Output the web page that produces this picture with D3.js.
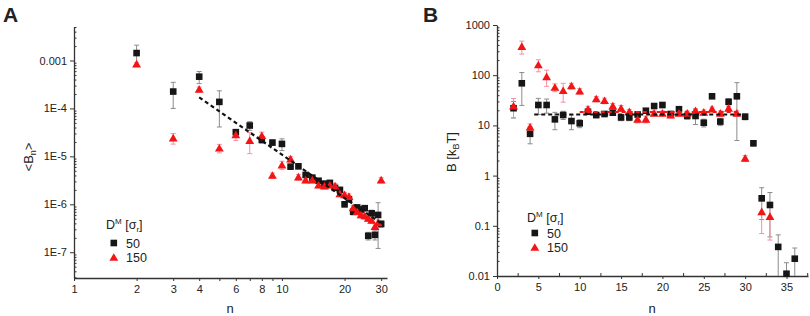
<!DOCTYPE html>
<html lang="en">
<head>
<meta charset="UTF-8">
<title>Bn vs n</title>
<script src="https://cdn.jsdelivr.net/npm/d3@7"></script>
<style>
  body { margin: 0; background: #fff; }
  svg text { font-family: "Liberation Sans", Arial, sans-serif; fill: #222; }
  .axis path, .axis line { stroke: #333; }
  .axis text { font-size: 11px; fill: #222; font-family: "Liberation Sans", Arial, sans-serif; }
</style>
</head>
<body>
<svg id="chart" width="810" height="316"></svg>
<script>
// ---------- panel A data ----------
const nA = [2, 3, 4, 5, 6, 7, 8, 9, 10, 11, 12, 13, 14, 15, 16, 17, 18, 19, 20, 21, 22, 23, 24, 25, 26, 27, 28, 29, 30];
const bnBlack = [1.43e-3, 2.25e-4, 4.6e-4, 1.37e-4, 3.2e-5, 4.4e-5, 2.2e-5, 1.94e-5, 1.82e-5, 6.1e-6, 6.2e-6, 4.1e-6, 3.6e-6, 3.1e-6, 2.7e-6,
                 2.8e-6, 2.2e-6, 2.0e-6, 1.0e-6, 1.28e-6, 7.0e-7, 8.6e-7, 7.8e-7, 8.3e-7, 2.2e-7, 6.5e-7, 2.3e-7, 6.0e-7, 3.9e-7];
const bnBlackErr = [6.6e-4, 1.25e-4, 1.3e-4, 9.6e-5, 4e-6, 9e-6, 3e-6, 2.5e-6, 5e-6, 7e-7, 7e-7, 4e-7, 3e-7, 3e-7, 3e-7,
                    3e-7, 2.5e-7, 2e-7, 1.2e-7, 1.5e-7, 1e-7, 1e-7, 1e-7, 1e-7, 4e-8, 1e-7, 5e-8, 4.8e-7, 6e-8];
const bnRed = [8.4e-4, 2.4e-5, 2.5e-4, 1.48e-5, 2.8e-5, 2.14e-5, 2.7e-5, 4.0e-6, 6.6e-6, 8.8e-6, 3.7e-6, 3.2e-6, 3.2e-6, 2.5e-6, 2.4e-6,
               2.5e-6, 2.4e-6, 1.65e-6, 1.57e-6, 1.45e-6, 8.4e-7, 7.0e-7, 6.0e-7, 5.7e-7, 5.1e-7, 4.6e-7, 3.4e-7, 4.1e-7, 3.2e-6];
const bnRedErr = [6e-5, 6e-6, 3e-5, 3e-6, 6.5e-6, 1e-5, 5e-6, 5e-7, 1.3e-6, 1.2e-6, 5e-7, 4e-7, 4e-7, 3e-7, 3e-7,
                  3e-7, 3e-7, 2e-7, 2e-7, 2e-7, 1e-7, 1e-7, 8e-8, 8e-8, 7e-8, 6e-8, 5e-8, 6e-8, 4e-7];
const fitAn = [4, 30];
const fitAv = [1.7e-4, 4.0e-7];
const xTicksA = [1, 2, 3, 4, 6, 8, 10, 20, 30];
const xMinorA = [5, 7, 9];
const yTicksA = [1e-7, 1e-6, 1e-5, 1e-4, 1e-3];
const yLabelsA = ["1E-7", "1E-6", "1E-5", "1E-4", "0.001"];

// ---------- panel B data ----------
const nBBlack = [2, 3, 4, 5, 6, 7, 8, 9, 10, 11, 12, 13, 14, 15, 16, 17, 18, 19, 20, 21, 22, 23, 24, 25, 26, 27, 28, 29, 30, 31, 32, 33, 34, 35, 36];
const bBlack = [22, 69, 6.8, 25.5, 25.5, 13.2, 16.1, 12.2, 11, 18.7, 16.1, 16.9, 17.9, 14.4, 14.4, 16.5, 19.6, 24.3, 25.5, 16.9,
                21, 15.4, 15.4, 11.3, 38, 11.9, 29.6, 38, 14.9, 4.4, 0.353, 0.26, 0.038, 0.0111, 0.0221];
const bBlackErr = [8, 44, 2.5, 9, 8, 5, 3, 4, 2, 2, 2, 2, 2, 2, 2, 2, 2, 2, 3, 2,
                   2, 2, 5, 2, 3, 2, 4, 33, 2, 0.5, 0.22, 0.2, 0.028, 0.0073, 0.014];
const nBRed = [2, 3, 4, 5, 6, 7, 8, 9, 10, 11, 12, 13, 14, 15, 16, 17, 18, 19, 20, 21, 22, 23, 24, 25, 26, 27, 28, 29, 30, 32, 33];
const bRed = [24.3, 370, 9.2, 160, 93, 57, 49, 61, 48, 21, 33.6, 31, 24.3, 21.9, 18.7, 13.2, 13.2, 17.4, 17.4, 16.1,
              17.4, 17.4, 19.6, 18.2, 21.2, 17.4, 21.9, 17.4, 2.2, 0.19, 0.152];
const bRedErr = [10, 107, 1.5, 43, 33, 10, 20, 8, 6, 3, 4, 4, 3, 3, 2, 2, 2, 2, 2, 2,
                 2, 2, 2, 2, 2, 2, 2, 2, 0.3, 0.12, 0.1];
const fitBlackN = [4.5, 29.5], fitBlackV = [16.5, 16.5];
const fitRedN = [10, 29], fitRedV = [18.5, 18.5];
const xTicksB = [0, 5, 10, 15, 20, 25, 30, 35];
const xMinorB = [2.5, 7.5, 12.5, 17.5, 22.5, 27.5, 32.5, 37.5];
const yTicksB = [0.01, 0.1, 1, 10, 100, 1000];
const yLabelsB = ["0.01", "0.1", "1", "10", "100", "1000"];

const legendLabels = ["50", "150"];

const BLACK = "#161616", RED = "#f31515";
const GREY_ERR = "#8c8c8c", PINK_ERR = "#f58fa6";

const svg = d3.select("#chart");

// minor ticks of a log axis (2..9 of each decade)
function logMinors(domain) {
  const out = [];
  const lo = Math.floor(Math.log10(domain[0])), hi = Math.ceil(Math.log10(domain[1]));
  for (let e = lo; e <= hi; e++) {
    for (let m = 2; m < 10; m++) {
      const v = m * Math.pow(10, e);
      if (v >= domain[0] && v <= domain[1]) out.push(v);
    }
  }
  return out;
}

function drawPanel(o) {
  const g = svg.append("g");

  // axes
  g.append("g").attr("class", "axis").attr("transform", `translate(0,${o.y.range()[0]})`)
    .call(d3.axisBottom(o.x).tickValues(o.xTicks).tickFormat((d, i) => o.xLabels[i]).tickSizeInner(3).tickSizeOuter(0).tickPadding(4))
    .call(a => a.select(".domain").attr("stroke-width", 1.3));
  g.append("g").attr("class", "axis").attr("transform", `translate(0,${o.y.range()[0]})`)
    .call(d3.axisBottom(o.x).tickValues(o.xMinor).tickFormat("").tickSizeInner(o.xMinorSize).tickSizeOuter(0))
    .call(a => a.select(".domain").remove());
  g.append("g").attr("class", "axis").attr("transform", `translate(${o.x.range()[0]},0)`)
    .call(d3.axisLeft(o.y).tickValues(o.yTicks).tickFormat((d, i) => o.yLabels[i]).tickSizeInner(4).tickSizeOuter(0).tickPadding(3))
    .call(a => a.select(".domain").attr("stroke-width", 1.3));
  g.append("g").attr("class", "axis").attr("transform", `translate(${o.x.range()[0]},0)`)
    .call(d3.axisLeft(o.y).tickValues(logMinors(o.y.domain())).tickFormat("").tickSizeInner(-2.5).tickSizeOuter(0))
    .call(a => a.select(".domain").remove());

  // error bars
  o.series.forEach(s => {
    const eg = g.append("g").attr("stroke", s.errColor).attr("stroke-width", 1);
    s.n.forEach((n, i) => {
      const v = s.v[i], e = s.e[i];
      const lo = v - e > o.y.domain()[0] ? o.y(v - e) : o.y.range()[0];
      const hi = o.y(v + e);
      const x = o.x(n);
      eg.append("line").attr("x1", x).attr("x2", x).attr("y1", lo).attr("y2", hi);
      eg.append("line").attr("x1", x - 2.5).attr("x2", x + 2.5).attr("y1", hi).attr("y2", hi);
      if (v - e > o.y.domain()[0]) eg.append("line").attr("x1", x - 2.5).attr("x2", x + 2.5).attr("y1", lo).attr("y2", lo);
    });
  });

  // markers
  o.series.forEach(s => {
    const pts = s.n.map((n, i) => [n, s.v[i]]);
    if (s.shape === "square") {
      g.append("g").selectAll("rect").data(pts).join("rect")
        .attr("x", d => o.x(d[0]) - 3.3).attr("y", d => o.y(d[1]) - 3.3)
        .attr("width", 6.6).attr("height", 6.6).attr("fill", s.color);
    } else {
      g.append("g").selectAll("path").data(pts).join("path")
        .attr("d", d3.symbol(d3.symbolTriangle, 34))
        .attr("transform", d => `translate(${o.x(d[0])},${o.y(d[1]) + 0.8})`)
        .attr("fill", s.color);
    }
  });

  // dashed fits
  o.fits.forEach(f => {
    g.append("path")
      .attr("d", d3.line().x(d => o.x(d[0])).y(d => o.y(d[1]))(f.n.map((n, i) => [n, f.v[i]])))
      .attr("fill", "none").attr("stroke", f.color).attr("stroke-width", 2.2).attr("stroke-dasharray", "4,3");
  });

  // legend
  const lg = g.append("g");
  const head = lg.append("text").attr("x", o.legend[0]).attr("y", o.legend[1]).attr("font-size", 12.5);
  head.append("tspan").text("D");
  head.append("tspan").attr("font-size", 8).attr("dy", -5).text("M");
  head.append("tspan").attr("dy", 5).text(" [σ");
  head.append("tspan").attr("font-size", 8).attr("dy", 3).text("r");
  head.append("tspan").attr("dy", -3).text("]");
  legendLabels.forEach((lab, i) => {
    const cy = o.legend[1] + o.legendGap + i * 14.5;
    if (i === 0) {
      lg.append("rect").attr("x", o.legend[0] + 4.5).attr("y", cy - 3.3).attr("width", 6.6).attr("height", 6.6).attr("fill", BLACK);
    } else {
      lg.append("path").attr("d", d3.symbol(d3.symbolTriangle, 34)).attr("transform", `translate(${o.legend[0] + 7.8},${cy + 0.8})`).attr("fill", RED);
    }
    lg.append("text").attr("x", o.legend[0] + 20).attr("y", cy + 4.5).attr("font-size", 12.5).text(lab);
  });
}

// ---------- panel A ----------
const xA = d3.scaleLog().domain([1, 32]).range([74, 387]);
const yA = d3.scaleLog().domain([2.9e-8, 5e-3]).range([278, 27]);
drawPanel({
  x: xA, y: yA,
  xTicks: xTicksA, xLabels: xTicksA.map(String), xMinor: xMinorA, xMinorSize: 3,
  yTicks: yTicksA, yLabels: yLabelsA,
  series: [
    { n: nA, v: bnBlack, e: bnBlackErr, color: BLACK, errColor: GREY_ERR, shape: "square" },
    { n: nA, v: bnRed, e: bnRedErr, color: RED, errColor: PINK_ERR, shape: "triangle" }
  ],
  fits: [{ n: fitAn, v: fitAv, color: "#111" }],
  legend: [106, 229], legendGap: 14
});

// ---------- panel B ----------
const xB = d3.scaleLinear().domain([0, 37.6]).range([497, 808]);
const yB = d3.scaleLog().domain([0.01, 1000]).range([276, 25]);
drawPanel({
  x: xB, y: yB,
  xTicks: xTicksB, xLabels: xTicksB.map(String), xMinor: xMinorB, xMinorSize: -3,
  yTicks: yTicksB, yLabels: yLabelsB,
  series: [
    { n: nBBlack, v: bBlack, e: bBlackErr, color: BLACK, errColor: GREY_ERR, shape: "square" },
    { n: nBRed, v: bRed, e: bRedErr, color: RED, errColor: PINK_ERR, shape: "triangle" }
  ],
  fits: [{ n: fitRedN, v: fitRedV, color: RED }, { n: fitBlackN, v: fitBlackV, color: "#111" }],
  legend: [527, 222], legendGap: 11
});

// axis titles and panel letters
svg.append("text").attr("x", 230).attr("y", 313).attr("text-anchor", "middle").attr("font-size", 13).text("n");
svg.append("text").attr("x", 652).attr("y", 313).attr("text-anchor", "middle").attr("font-size", 13).text("n");

const ylA = svg.append("text").attr("transform", "translate(33,157) rotate(-90)").attr("text-anchor", "middle").attr("font-size", 13);
ylA.append("tspan").text("<B");
ylA.append("tspan").attr("font-size", 9).attr("dy", 3).text("n");
ylA.append("tspan").attr("dy", -3).text(">");

const ylB = svg.append("text").attr("transform", "translate(456,152) rotate(-90)").attr("text-anchor", "middle").attr("font-size", 13);
ylB.append("tspan").text("B [k");
ylB.append("tspan").attr("font-size", 9).attr("dy", 3).text("B");
ylB.append("tspan").attr("dy", -3).text("T]");

svg.append("text").attr("x", 3).attr("y", 22).attr("font-size", 21).attr("font-weight", "bold").text("A");
svg.append("text").attr("x", 423).attr("y", 22).attr("font-size", 21).attr("font-weight", "bold").text("B");
</script>
</body>
</html>
